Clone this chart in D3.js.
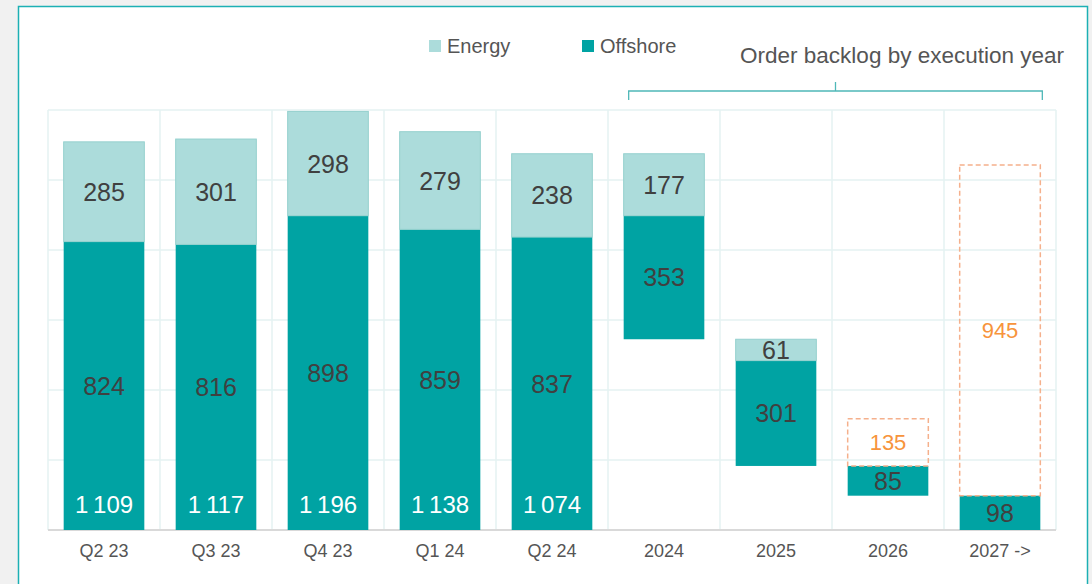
<!doctype html>
<html>
<head>
  <style type="text/css">
    body { margin: 0; background: #f1f1f1; }
    svg { display: block; }
    text { font-family: "Liberation Sans", Arial, sans-serif; }
    .grid line { stroke: #e4f2f2; stroke-width: 1.5; }
    .axis path { display: none; }
    .axis line { display: none; }
    .axis text { fill: #555; font-size: 18px; font-family: "Liberation Sans", Arial, sans-serif; }
  </style>
  <title>Order backlog</title>
</head>
<body>
<svg class="chart"></svg>

<script type="text/javascript" src="https://cdnjs.cloudflare.com/ajax/libs/d3/7.8.5/d3.min.js"></script>
<script type="text/javascript">

// quarterly order backlog, split by segment
var quarters = ["Q2 23", "Q3 23", "Q4 23", "Q1 24", "Q2 24"];
var quarterOffshore = [824, 816, 898, 859, 837];
var quarterEnergy = [285, 301, 298, 279, 238];
var quarterTotals = [1109, 1117, 1196, 1138, 1074];

// backlog by execution year (waterfall)
var years = ["2024", "2025", "2026", "2027 ->"];
var yearOffshore = [353, 301, 85, 98];
var yearEnergy = [177, 61, 0, 0];
var yearOpen = [0, 0, 135, 945];

var yTicks = [0, 200, 400, 600, 800, 1000, 1200];

var width = 1092,
    height = 584,
    margin = { top: 110, right: 36, bottom: 54, left: 48 },
    plotW = width - margin.left - margin.right,
    plotH = height - margin.top - margin.bottom;

var energyColor = "#acdcdb",
    offshoreColor = "#00a3a3",
    openColor = "#f5b08c",
    labelColor = "#404040";

var svg = d3.select(".chart")
  .attr("width", width)
  .attr("height", height);

// white panel
svg.append("rect")
  .attr("x", 18.5).attr("y", 6.5)
  .attr("width", 1069).attr("height", 600)
  .attr("fill", "#fff")
  .attr("stroke", "#1cb0b4")
  .attr("stroke-width", 1.5);

var chart = svg.append("g")
  .attr("transform", "translate(" + margin.left + "," + margin.top + ")");

var categories = quarters.concat(years);

var x = d3.scaleBand()
  .domain(categories)
  .range([0, plotW])
  .paddingInner(0.28)
  .paddingOuter(0.14);

var step = x.step();

var y = d3.scaleLinear()
  .domain([0, 1200])
  .range([plotH, 0]);

// gridlines
var grid = chart.append("g").attr("class", "grid");
grid.selectAll("line.h")
  .data(yTicks.slice(1))
  .enter().append("line")
  .attr("class", "h")
  .attr("x1", 0).attr("x2", plotW)
  .attr("y1", function(d) { return y(d); })
  .attr("y2", function(d) { return y(d); });

grid.selectAll("line.v")
  .data(d3.range(categories.length + 1))
  .enter().append("line")
  .attr("class", "v")
  .attr("x1", function(i) { return i * step; })
  .attr("x2", function(i) { return i * step; })
  .attr("y1", 0).attr("y2", plotH);

// baseline
chart.append("line")
  .attr("x1", 0).attr("x2", plotW)
  .attr("y1", plotH).attr("y2", plotH)
  .attr("stroke", "#d9d9d9")
  .attr("stroke-width", 2);

// build segments
var segs = [];
quarters.forEach(function(q, i) {
  segs.push({ cat: q, y0: 0, y1: quarterOffshore[i], type: "off", label: quarterOffshore[i] });
  segs.push({ cat: q, y0: quarterOffshore[i], y1: quarterOffshore[i] + quarterEnergy[i], type: "en", label: quarterEnergy[i] });
});

// waterfall bases: each year starts on top of the later years' backlog
var base = 0;
for (var i = years.length - 1; i >= 0; i--) {
  var b = base;
  segs.push({ cat: years[i], y0: b, y1: b + yearOffshore[i], type: "off", label: yearOffshore[i] });
  if (yearEnergy[i] > 0)
    segs.push({ cat: years[i], y0: b + yearOffshore[i], y1: b + yearOffshore[i] + yearEnergy[i], type: "en", label: yearEnergy[i] });
  if (yearOpen[i] > 0)
    segs.push({ cat: years[i], y0: b + yearOffshore[i] + yearEnergy[i], y1: b + yearOffshore[i] + yearEnergy[i] + yearOpen[i], type: "open", label: yearOpen[i] });
  base = b + yearOffshore[i] + yearEnergy[i];
}

var bars = chart.append("g").attr("class", "bars");

bars.selectAll("rect")
  .data(segs)
  .enter().append("rect")
  .attr("x", function(d) { return x(d.cat); })
  .attr("width", x.bandwidth())
  .attr("y", function(d) { return y(d.y1); })
  .attr("height", function(d) { return y(d.y0) - y(d.y1); })
  .attr("fill", function(d) {
    return d.type == "off" ? offshoreColor : d.type == "en" ? energyColor : "none";
  })
  .attr("stroke", function(d) {
    return d.type == "en" ? "#94d0ce" : d.type == "open" ? openColor : "none";
  })
  .attr("stroke-width", function(d) { return d.type == "open" ? 1.5 : 1; })
  .attr("stroke-dasharray", function(d) { return d.type == "open" ? "5,3" : null; });

bars.selectAll("text.val")
  .data(segs)
  .enter().append("text")
  .attr("class", "val")
  .attr("x", function(d) { return x(d.cat) + x.bandwidth() / 2; })
  .attr("y", function(d) { return (y(d.y0) + y(d.y1)) / 2; })
  .attr("dy", "0.36em")
  .attr("text-anchor", "middle")
  .attr("font-size", function(d) { return d.type == "open" ? "22px" : "25px"; })
  .attr("fill", function(d) { return d.type == "open" ? "#f7943c" : labelColor; })
  .text(function(d) { return d.label; });

// quarter totals at the foot of the bars
var fmt = d3.formatLocale({ decimal: ".", thousands: "\u2009", grouping: [3], currency: ["", ""] }).format(",");

bars.selectAll("text.total")
  .data(quarters)
  .enter().append("text")
  .attr("class", "total")
  .attr("x", function(d) { return x(d) + x.bandwidth() / 2; })
  .attr("y", plotH - 26)
  .attr("dy", "0.36em")
  .attr("text-anchor", "middle")
  .attr("font-size", "24px")
  .attr("fill", "#fff")
  .text(function(d, i) { return fmt(quarterTotals[i]); });

// x axis
chart.append("g")
  .attr("class", "axis")
  .attr("transform", "translate(0," + plotH + ")")
  .call(d3.axisBottom(x).tickSize(0).tickPadding(14));

// legend
var legend = svg.append("g");
var legendItems = [
  { name: "Energy", color: energyColor, x: 429 },
  { name: "Offshore", color: offshoreColor, x: 582 }
];
legendItems.forEach(function(d) {
  legend.append("rect")
    .attr("x", d.x).attr("y", 40)
    .attr("width", 12).attr("height", 12)
    .attr("fill", d.color);
  legend.append("text")
    .attr("x", d.x + 18).attr("y", 46)
    .attr("dy", "0.36em")
    .attr("font-size", "20px")
    .attr("fill", "#555")
    .text(d.name);
});

// bracket over the execution years
var bx0 = x(years[0]) + margin.left + 5,
    bx1 = x(years[years.length - 1]) + x.bandwidth() + margin.left + 2,
    bmid = (bx0 + bx1) / 2;

svg.append("path")
  .attr("d", "M" + bx0 + ",100 L" + bx0 + ",91 L" + bx1 + ",91 L" + bx1 + ",100 M" + bmid + ",91 L" + bmid + ",82")
  .attr("fill", "none")
  .attr("stroke", "#4fb8b8")
  .attr("stroke-width", 1.3);

svg.append("text")
  .attr("x", 1064).attr("y", 55)
  .attr("dy", "0.36em")
  .attr("text-anchor", "end")
  .attr("font-size", "22.5px")
  .attr("fill", "#555")
  .text("Order backlog by execution year");

</script>
</body>
</html>
